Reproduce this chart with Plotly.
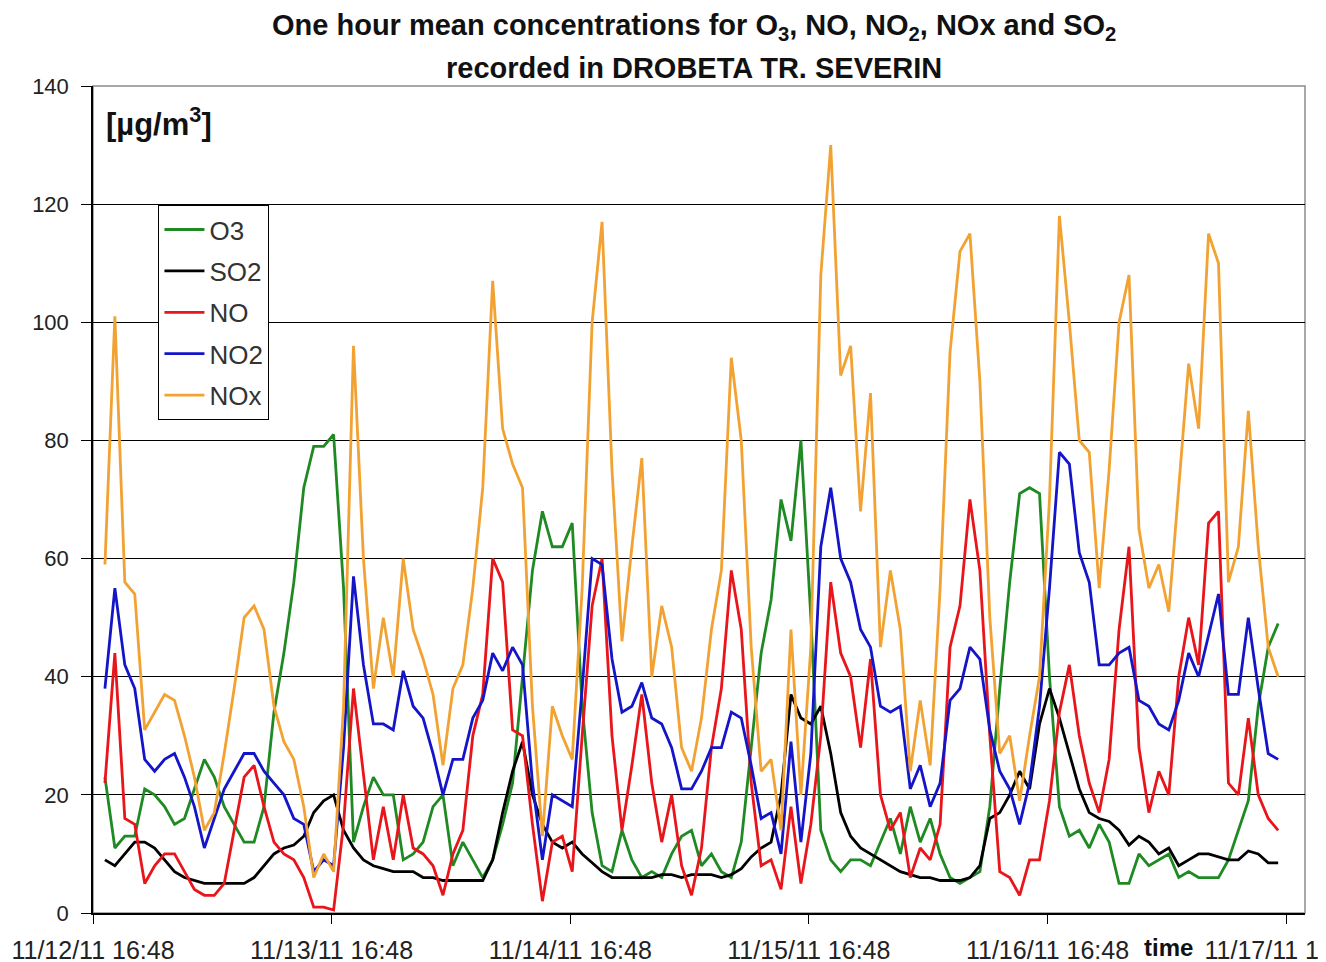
import pandas as pd
import plotly.graph_objects as go

# ---- data (hourly means) ----
start_time = "2011-11-12 18:00"

o3 = [23, 11, 13, 13, 21, 20, 18, 15, 16, 21, 26, 23, 18, 15, 12, 12, 18, 34, 44, 56,
      72, 79, 79, 81, 55, 12, 18, 23, 20, 20, 9, 10, 12, 18, 20, 8, 12, 9, 6, 9,
      15, 22, 40, 58, 68, 62, 62, 66, 35, 17, 8, 7, 14, 9, 6, 7, 6, 10, 13, 14,
      8, 10, 7, 6, 12, 28, 44, 53, 70, 63, 80, 50, 14, 9, 7, 9, 9, 8, 12, 16,
      10, 18, 12, 16, 10, 6, 5, 6, 7, 18, 38, 56, 71, 72, 71, 40, 18, 13, 14, 11,
      15, 12, 5, 5, 10, 8, 9, 10, 6, 7, 6, 6, 6, 9, 14, 19, 35, 45, 49]

so2 = [9, 8, 10, 12, 12, 11, 9, 7, 6, 5.5, 5, 5, 5, 5, 5, 6, 8, 10, 11, 11.5,
       13, 17, 19, 20, 14, 11, 9, 8, 7.5, 7, 7, 7, 6, 6, 5.5, 5.5, 5.5, 5.5, 5.5, 9,
       17, 24, 29, 20, 15, 12, 11, 12, 10, 8.5, 7, 6, 6, 6, 6, 6, 6.5, 6.5, 6, 6.5,
       6.5, 6.5, 6, 6.5, 7.5, 9.5, 11, 12, 20, 37, 33, 32, 35, 27, 17, 13, 11, 10, 9, 8,
       7, 6.5, 6, 6, 5.5, 5.5, 5.5, 6, 8, 16, 17, 20, 24, 21, 32, 38, 33, 27, 21, 17,
       16, 15.5, 14, 11.5, 13, 12, 10, 11, 8, 9, 10, 10, 9.5, 9, 9, 10.5, 10, 8.5, 8.5]

no = [22, 44, 16, 15, 5, 8, 10, 10, 7, 4, 3, 3, 5, 14, 23, 25, 18, 12, 10, 9,
      6, 1, 1, 0.5, 15, 38, 24, 9, 18, 9, 20, 11, 10, 8, 3, 10, 14, 30, 37, 60,
      56, 31, 30, 15, 2, 12, 13, 7, 30, 52, 60, 30, 14, 25, 37, 22, 12, 20, 8, 3,
      11, 28, 38, 58, 48, 22, 8, 9, 4, 18, 5, 15, 30, 56, 44, 40, 28, 43, 20, 14,
      17, 6, 11, 9, 15, 45, 52, 70, 58, 30, 7, 6, 3, 9, 9, 19, 34, 42, 30, 22,
      17, 26, 48, 62, 28, 17, 24, 20, 40, 50, 42, 66, 68, 22, 20, 33, 20, 16, 14]

no2 = [38, 55, 42, 38, 26, 24, 26, 27, 23, 18, 11, 16, 21, 24, 27, 27, 24, 22, 20, 16,
       15, 7, 9, 8, 28, 57, 42, 32, 32, 31, 41, 35, 33, 27, 20, 26, 26, 33, 36, 44,
       41, 45, 42, 22, 9, 20, 19, 18, 38, 60, 59, 43, 34, 35, 39, 33, 32, 28, 21, 21,
       24, 28, 28, 34, 33, 25, 16, 17, 10, 29, 12, 27, 62, 72, 60, 56, 48, 45, 35, 34,
       35, 21, 25, 18, 22, 36, 38, 45, 43, 31, 24, 21, 15, 22, 35, 55, 78, 76, 61, 56,
       42, 42, 44, 45, 36, 35, 32, 31, 36, 44, 40, 47, 54, 37, 37, 50, 38, 27, 26]

nox = [59, 101, 56, 54, 31, 34, 37, 36, 30, 23, 14, 17, 27, 38, 50, 52, 48, 35, 29, 26,
       18, 6, 10, 7, 35, 96, 60, 38, 50, 40, 60, 48, 43, 37, 25, 38, 42, 55, 72, 107,
       82, 76, 72, 35, 13, 35, 30, 26, 55, 100, 117, 75, 46, 62, 77, 40, 52, 45, 28, 24,
       33, 48, 58, 94, 80, 45, 24, 26, 14, 48, 20, 45, 108, 130, 91, 96, 68, 88, 45, 58,
       48, 24, 36, 25, 55, 95, 112, 115, 90, 50, 27, 30, 19, 30, 40, 70, 118, 100, 80, 78,
       55, 75, 100, 108, 65, 55, 59, 51, 72, 93, 82, 115, 110, 56, 62, 85, 62, 45, 40]

series_names = ["O3", "SO2", "NO", "NO2", "NOx"]
series_values = [o3, so2, no, no2, nox]
series_colors = ["#1f8a23", "#000000", "#e8151b", "#1414c8", "#f2a233"]

tick_dates = ["2011-11-12 16:48", "2011-11-13 16:48", "2011-11-14 16:48",
              "2011-11-15 16:48", "2011-11-16 16:48", "2011-11-17 16:48"]
tick_labels = ["11/12/11 16:48", "11/13/11 16:48", "11/14/11 16:48",
               "11/15/11 16:48", "11/16/11 16:48", "11/17/11 16:48"]
y_ticks = [0, 20, 40, 60, 80, 100, 120, 140]

times = pd.date_range(start_time, periods=len(o3), freq="h")

FONT = "Liberation Sans, Arial, sans-serif"

fig = go.Figure()
for name, vals, col in zip(series_names, series_values, series_colors):
    fig.add_trace(go.Scatter(
        x=times, y=vals, mode="lines", name=name,
        line=dict(color=col, width=2.8),
        legendgroup=name,
    ))

fig.update_layout(
    width=1318, height=954,
    margin=dict(l=85, r=21, t=78, b=49, autoexpand=False),
    paper_bgcolor="white", plot_bgcolor="white",
    font=dict(family=FONT, color="#222222"),
    showlegend=True,
    legend=dict(
        x=0.054, y=0.856, xanchor="left", yanchor="top",
        bgcolor="white", bordercolor="#000000", borderwidth=1,
        font=dict(family=FONT, size=26, color="#333333"),
        traceorder="grouped", tracegroupgap=4.6,
        itemwidth=40,
        entrywidth=68, entrywidthmode="pixels",
    ),
    shapes=[dict(type="rect", xref="paper", yref="paper", x0=0, y0=0, x1=1, y1=1,
                 line=dict(color="#8c8c8c", width=1.5), layer="below")],
)

fig.update_xaxes(
    type="date",
    range=["2011-11-12 16:48", "2011-11-17 18:42"],
    tickvals=tick_dates, ticktext=tick_labels,
    ticks="outside", ticklen=9, tickwidth=1.3, tickcolor="#000000",
    showline=True, linecolor="#000000", linewidth=1.5,
    showgrid=False, zeroline=False,
    tickfont=dict(family=FONT, size=25, color="#222222"),
    ticklabelstandoff=5,
    ticklabeloverflow="allow",
)
fig.update_yaxes(
    range=[0, 140], tickvals=y_ticks,
    ticks="outside", ticklen=10, tickwidth=1.3, tickcolor="#000000",
    showline=True, linecolor="#000000", linewidth=1.5,
    showgrid=True, gridcolor="#000000", gridwidth=1.3,
    zeroline=False,
    tickfont=dict(family=FONT, size=22, color="#222222"),
    ticklabelstandoff=8,
)

fig.add_annotation(
    text="<b>One hour mean concentrations for O<sub>3</sub>, NO, NO<sub>2</sub>, NOx and SO<sub>2</sub></b>",
    xref="paper", yref="paper", x=0.496, y=1.0713, xanchor="center", yanchor="middle",
    showarrow=False, font=dict(family=FONT, size=29, color="#111111"),
)
fig.add_annotation(
    text="<b>recorded in DROBETA TR. SEVERIN</b>",
    xref="paper", yref="paper", x=0.496, y=1.0218, xanchor="center", yanchor="middle",
    showarrow=False, font=dict(family=FONT, size=29, color="#111111"),
)
fig.add_annotation(
    text="<b>[µg/m<sup>3</sup>]</b>",
    xref="paper", yref="paper", x=0.009, y=0.956, xanchor="left", yanchor="middle",
    showarrow=False, font=dict(family=FONT, size=31, color="#111111"),
)
fig.add_annotation(
    text="<b>time</b>",
    xref="paper", yref="paper", x=0.887, y=-0.042, xanchor="center", yanchor="middle",
    showarrow=False, font=dict(family=FONT, size=24, color="#111111"),
)

fig.write_html("out.html")
